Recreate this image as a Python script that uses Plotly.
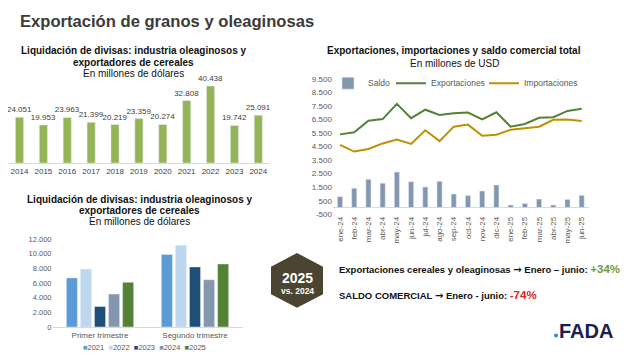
import plotly.graph_objects as go

# The page body has an 8px default margin; the figure is sized to fit the window.
OFF = 8
W, H = 640 - OFF, 359 - OFF

# ---------------- Data ----------------
# Top-left: annual liquidation
years = ["2014", "2015", "2016", "2017", "2018", "2019", "2020", "2021", "2022", "2023", "2024"]
liquidacion = [24051, 19953, 23963, 21399, 20219, 23359, 20274, 32808, 40438, 19742, 25091]

# Bottom-left: quarterly liquidation
trimestres = ["Primer trimestre", "Segundo trimestre"]
anios_trim = ["2021", "2022", "2023", "2024", "2025"]
liq_2021 = [6700, 9900]
liq_2022 = [7900, 11150]
liq_2023 = [2800, 8200]
liq_2024 = [4500, 6450]
liq_2025 = [6100, 8600]
trim_series = [liq_2021, liq_2022, liq_2023, liq_2024, liq_2025]
trim_colors = ["#5B9BD5", "#BDD7EE", "#1F4E79", "#8497B0", "#548235"]
trim_tickvals = [0, 2000, 4000, 6000, 8000, 10000, 12000]
trim_ticktext = ["0", "2.000", "4.000", "6.000", "8.000", "10.000", "12.000"]

# Right: trade balance
meses = ["ene-24", "feb-24", "mar-24", "abr-24", "may-24", "jun-24", "jul-24", "ago-24", "sep-24",
         "oct-24", "nov-24", "dic-24", "ene-25", "feb-25", "mar-25", "abr-25", "may-25", "jun-25"]
exportaciones = [5400, 5550, 6400, 6530, 7650, 6600, 7220, 6840, 6960, 7010, 6500, 7030, 5970, 6170, 6620, 6670, 7130, 7290]
importaciones = [4630, 4130, 4320, 4730, 5020, 4700, 5700, 4900, 5970, 6120, 5300, 5380, 5740, 5830, 5970, 6480, 6500, 6380]
saldo = [800, 1420, 2080, 1800, 2620, 1900, 1520, 1940, 990, 880, 1220, 1660, 190, 300, 620, 190, 600, 900]
trade_tickvals = [-500, 500, 1500, 2500, 3500, 4500, 5500, 6500, 7500, 8500, 9500]
trade_ticktext = ["-500", "500", "1.500", "2.500", "3.500", "4.500", "5.500", "6.500", "7.500", "8.500", "9.500"]


def fmt(v):
    return f"{v:,}".replace(",", ".")


def px(x):
    return min(max((x - OFF) / W, 0), 1)


def py(y):
    return min(max(1 - (y - OFF) / H, 0), 1)


FONT = "Arial, Liberation Sans, sans-serif"
DARK = "#111111"
GRAY = "#595959"

fig = go.Figure()

# ---------------- Top-left bars ----------------
fig.add_trace(go.Bar(
    x=years, y=liquidacion, xaxis="x", yaxis="y",
    marker=dict(color="#93B555"), width=0.34,
    text=[fmt(v) for v in liquidacion], textposition="outside", constraintext="none",
    textfont=dict(size=8, color="#404040"), cliponaxis=False,
    showlegend=False, hoverinfo="x+y",
))

# ---------------- Bottom-left grouped bars ----------------
for name, vals, col in zip(anios_trim, trim_series, trim_colors):
    fig.add_trace(go.Bar(
        x=trimestres, y=vals, name=name, xaxis="x2", yaxis="y2",
        marker=dict(color=col), showlegend=False,
    ))

# ---------------- Right chart ----------------
fig.add_trace(go.Bar(
    x=meses, y=saldo, name="Saldo", xaxis="x3", yaxis="y3",
    marker=dict(color="#8497B0"), width=0.36, legendwidth=18,
))
fig.add_trace(go.Scatter(
    x=meses, y=exportaciones, name="Exportaciones", xaxis="x3", yaxis="y3",
    mode="lines", line=dict(color="#548235", width=2), legendwidth=48,
))
fig.add_trace(go.Scatter(
    x=meses, y=importaciones, name="Importaciones", xaxis="x3", yaxis="y3",
    mode="lines", line=dict(color="#BF9000", width=2),
))

axis_common = dict(showgrid=False, zeroline=False, fixedrange=True)

# top-left category axis: first category at x=19.5px, last at 258.3px, domain 8..270.4px
tl_first, tl_last = 19.5, 258.3
tl_step = (tl_last - tl_first) / (len(years) - 1)
tl_range = [-(tl_first - OFF) / tl_step, (len(years) - 1) + (270.4 - tl_last) / tl_step]

fig.update_layout(
    width=W, height=H,
    margin=dict(l=0, r=0, t=0, b=0),
    paper_bgcolor="white", plot_bgcolor="white",
    font=dict(family=FONT, color=GRAY, size=8),
    barmode="group", bargap=0.26, bargroupgap=0.21,
    xaxis=dict(domain=[px(8), px(270.4)], anchor="y", range=tl_range, showline=True, linecolor="#d9d9d9",
               ticks="", tickfont=dict(size=8, color="#404040"), **axis_common),
    yaxis=dict(domain=[py(163), py(75.1)], anchor="x", range=[0, 45000], visible=False, **axis_common),
    xaxis2=dict(domain=[px(52.5), px(242.5)], anchor="y2", showline=True, linecolor="#d9d9d9",
                ticks="", tickfont=dict(size=8, color=GRAY), **axis_common),
    yaxis2=dict(domain=[py(331.3), py(241)], anchor="x2", range=[0, 12000],
                tickvals=trim_tickvals, ticktext=trim_ticktext, tickfont=dict(size=7.5, color=GRAY),
                showline=False, **axis_common),
    xaxis3=dict(domain=[px(332.9), px(588.8)], anchor="y3", showline=False, tickangle=-90,
                ticks="", tickfont=dict(size=8, color=GRAY), **axis_common),
    yaxis3=dict(domain=[py(215.6), py(76.6)], anchor="x3", range=[-500, 9500],
                tickvals=trade_tickvals, ticktext=trade_ticktext, tickfont=dict(size=8, color=GRAY),
                showline=False, showgrid=False, zeroline=True, zerolinecolor="#d9d9d9",
                zerolinewidth=1, fixedrange=True),
    legend=dict(orientation="h", x=px(328), y=py(81), xanchor="left", yanchor="middle",
                font=dict(size=8.5, color=GRAY), bgcolor="rgba(0,0,0,0)", itemwidth=30,
                traceorder="normal"),
)

ann = []


def text(x, y, s, size=10, color=DARK, bold=False, xanchor="center"):
    ann.append(dict(x=px(x), y=py(y), xref="paper", yref="paper", text=(f"<b>{s}</b>" if bold else s),
                    showarrow=False, xanchor=xanchor, yanchor="middle",
                    font=dict(size=size, color=color, family=FONT)))


ARROW = "<span style='font-family:DejaVu Sans;font-size:10px'>→</span>"

# Main title
text(18, 18, "Exportación de granos y oleaginosas", size=16.6, color="#3b3b3b", bold=True, xanchor="left")

# Top-left titles
text(133, 47.5, "Liquidación de divisas: industria oleaginosos y", size=10, bold=True)
text(133, 59.5, "exportadores de cereales", size=10, bold=True)
text(133, 71.5, "En millones de dólares", size=10)

# Bottom-left titles
text(139.5, 200, "Liquidación de divisas: industria oleaginosos y", size=10, bold=True)
text(139.5, 212, "exportadores de cereales", size=10, bold=True)
text(139.5, 223.5, "En millones de dólares", size=10)

# Bottom-left legend
leg = "  ".join(f"<span style='color:{c}'>■</span>{n}" for n, c in zip(anios_trim, trim_colors))
text(144, 352, leg, size=7.5, color=GRAY)

# Right titles
text(454, 47, "Exportaciones, importaciones y saldo comercial total", size=10, bold=True)
text(454, 60.5, "En millones de USD", size=10)

# Highlight texts
text(337, 272, f"Exportaciones cereales y oleaginosas {ARROW} Enero – junio: "
     "<span style='color:#6E9A3C;font-size:11.5px'>+34%</span>", size=9.5,
     bold=True, xanchor="left")
text(337, 298, f"SALDO COMERCIAL {ARROW} Enero - junio: "
     "<span style='color:#E52222;font-size:11.5px'>-74%</span>", size=9.5,
     bold=True, xanchor="left")

# Hexagon text
text(297, 281, "2025", size=14, color="white", bold=True)
text(297, 294.5, "vs. 2024", size=8.5, color="white", bold=True)

# Logo
text(586, 335, "FADA", size=20, color="#1C1D50", bold=True)

fig.update_layout(annotations=ann)

# Hexagon shape
hx = [(297, 256.5), (322, 270), (322, 297), (297, 310.5), (272, 297), (272, 270)]
path = "M " + " L ".join(f"{px(x):.5f},{py(y):.5f}" for x, y in hx) + " Z"
fig.add_shape(type="path", path=path, xref="paper", yref="paper",
              fillcolor="#4A4431", line=dict(color="#4A4431", width=2), layer="below")

# Logo dot
fig.add_shape(type="circle", xref="paper", yref="paper",
              x0=px(554), x1=px(558), y0=py(342), y1=py(338),
              fillcolor="#2E8BD8", line=dict(width=0))

fig.write_html("out.html")
